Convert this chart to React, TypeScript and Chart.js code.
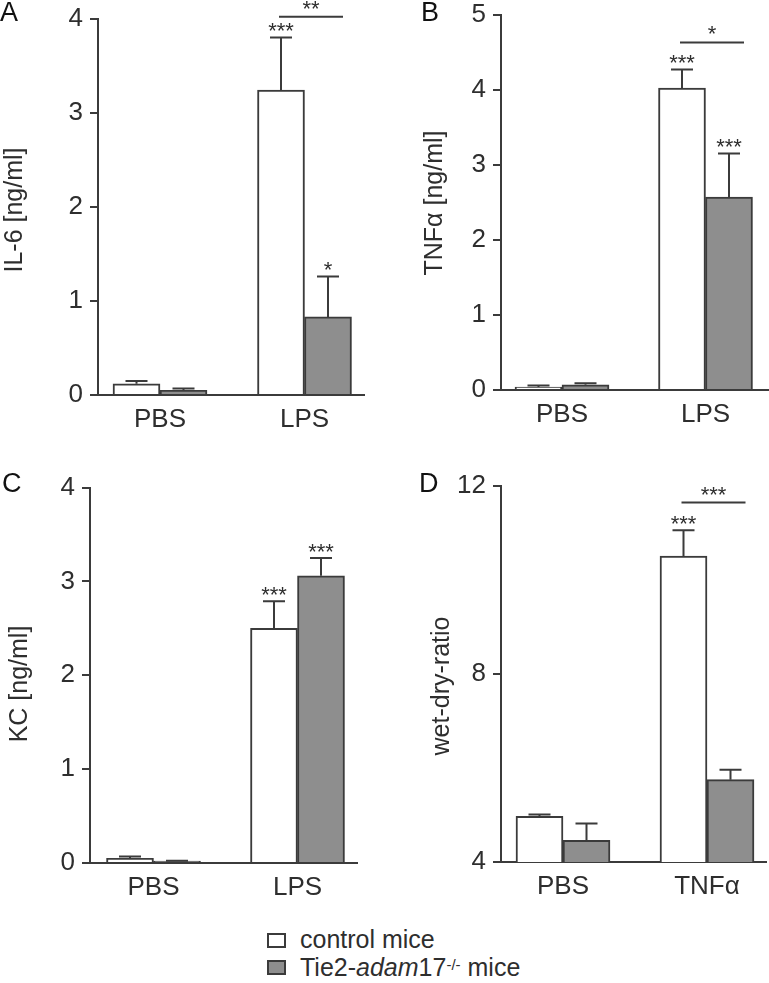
import React, { useEffect, useRef } from 'react';
import { Chart, registerables } from 'chart.js';

Chart.register(...registerables);

// ---------- data ----------
const categoriesLPS = ['PBS', 'LPS'];
const categoriesTNF = ['PBS', 'TNFα'];

const il6Control = [0.12, 3.24];
const il6ControlSem = [0.03, 0.56];
const il6Tie2 = [0.05, 0.83];
const il6Tie2Sem = [0.02, 0.43];
const il6ControlMarks = ['', '***'];
const il6Tie2Marks = ['', '*'];
const il6Bracket = { category: 1, value: 4.02, text: '**' };

const tnfControl = [0.04, 4.02];
const tnfControlSem = [0.02, 0.25];
const tnfTie2 = [0.07, 2.57];
const tnfTie2Sem = [0.02, 0.58];
const tnfControlMarks = ['', '***'];
const tnfTie2Marks = ['', '***'];
const tnfBracket = { category: 1, value: 4.63, text: '*' };

const kcControl = [0.05, 2.5];
const kcControlSem = [0.02, 0.29];
const kcTie2 = [0.02, 3.06];
const kcTie2Sem = [0.005, 0.19];
const kcControlMarks = ['', '***'];
const kcTie2Marks = ['', '***'];

const wdControl = [4.97, 10.5];
const wdControlSem = [0.04, 0.55];
const wdTie2 = [4.46, 5.75];
const wdTie2Sem = [0.36, 0.21];
const wdControlMarks = ['', '***'];
const wdTie2Marks = ['', ''];
const wdBracket = { category: 1, value: 11.64, text: '***' };

const seriesNames = ['control mice', 'Tie2-adam17-/- mice'];

// ---------- styles ----------
const LINE = '#3b3b3b';
const TEXT = '#2e2e2e';
const GRAY = '#8e8e8e';
const FONT = "'Liberation Sans', Arial, sans-serif";
const CAP = 11;

type Series = { values: number[]; sem: number[]; marks: string[] };
type PanelCfg = {
  letter: string;
  categories: string[];
  control: Series;
  tie2: Series;
  bracket?: { category: number; value: number; text: string };
  yMin: number;
  yMax: number;
  yStep: number;
  yTitle: string;
  canvasLeft: number;
  axisX: number;
  top: number;
  bottom: number;
  right: number;
  c0: number;
  c1: number;
  titleX: number;
  titleY: number;
  letterLeft: number;
  letterTop: number;
};

const annotPlugin = {
  id: 'annot',
  afterDatasetsDraw(chart: any, _args: any, opts: any) {
    const ctx = chart.ctx;
    const y = chart.scales.y;
    ctx.save();
    ctx.strokeStyle = LINE;
    ctx.lineWidth = 2;
    ctx.fillStyle = TEXT;
    ctx.font = `22px ${FONT}`;
    ctx.textAlign = 'center';
    ctx.textBaseline = 'alphabetic';
    (opts.series as Series[]).forEach((s, di) => {
      const meta = chart.getDatasetMeta(di);
      meta.data.forEach((el: any, j: number) => {
        const top = y.getPixelForValue(s.values[j] + s.sem[j]);
        ctx.beginPath();
        ctx.moveTo(el.x, el.y);
        ctx.lineTo(el.x, top);
        ctx.moveTo(el.x - CAP, top);
        ctx.lineTo(el.x + CAP, top);
        ctx.stroke();
        if (s.marks[j]) ctx.fillText(s.marks[j], el.x, top + 1);
      });
    });
    const b = opts.bracket;
    if (b) {
      const x0 = chart.getDatasetMeta(0).data[b.category].x - 2;
      const x1 = chart.getDatasetMeta(1).data[b.category].x + 15;
      const yy = y.getPixelForValue(b.value);
      ctx.beginPath();
      ctx.moveTo(x0, yy);
      ctx.lineTo(x1, yy);
      ctx.stroke();
      ctx.fillText(b.text, (x0 + x1) / 2, yy - 1);
    }
    ctx.translate(opts.titleX, opts.titleY);
    ctx.rotate(-Math.PI / 2);
    ctx.font = `25px ${FONT}`;
    ctx.textBaseline = 'middle';
    ctx.fillText(opts.yTitle, 0, 0);
    ctx.restore();
  },
};

const PAD_TOP = 20;
const X_AXIS_H = 45;

function Panel({ cfg }: { cfg: PanelCfg }) {
  const ref = useRef<HTMLCanvasElement>(null);
  const canvasTop = cfg.top - PAD_TOP;
  const width = cfg.right - cfg.canvasLeft;
  const height = cfg.bottom + X_AXIS_H - canvasTop;
  useEffect(() => {
    const spacing = cfg.c1 - cfg.c0;
    const xMin = -(cfg.c0 - cfg.axisX) / spacing;
    const xMax = 1 + (cfg.right - cfg.c1) / spacing;
    const toPts = (v: number[]) => v.map((y, i) => ({ x: i, y }));
    const chart = new Chart(ref.current!, {
      type: 'bar',
      data: {
        datasets: [
          {
            label: seriesNames[0],
            data: toPts(cfg.control.values) as any,
            backgroundColor: '#ffffff',
            borderColor: LINE,
            borderWidth: 2,
            borderSkipped: 'start',
            barThickness: 47,
          },
          {
            label: seriesNames[1],
            data: toPts(cfg.tie2.values) as any,
            backgroundColor: GRAY,
            borderColor: LINE,
            borderWidth: 2,
            borderSkipped: 'start',
            barThickness: 47,
          },
        ],
      },
      options: {
        animation: false,
        responsive: false,
        events: [],
        layout: { padding: { top: PAD_TOP, left: 0, right: 0, bottom: 0 } },
        plugins: {
          legend: { display: false },
          tooltip: { enabled: false },
          annot: {
            series: [cfg.control, cfg.tie2],
            bracket: cfg.bracket,
            yTitle: cfg.yTitle,
            titleX: cfg.titleX - cfg.canvasLeft,
            titleY: cfg.titleY - canvasTop,
          },
        } as any,
        scales: {
          x: {
            type: 'linear',
            offset: false,
            bounds: 'data',
            min: xMin,
            max: xMax,
            afterBuildTicks: (s: any) => {
              s.ticks = cfg.categories.map((_, i) => ({ value: i }));
            },
            afterFit: (s: any) => {
              s.height = X_AXIS_H;
            },
            ticks: {
              callback: (v: any) => cfg.categories[v as number] ?? '',
              font: { family: FONT, size: 26 },
              color: TEXT,
              padding: 9,
              maxRotation: 0,
              autoSkip: false,
            },
            grid: { display: false, drawTicks: false, offset: false },
            border: { display: true, color: LINE, width: 2 },
          },
          y: {
            type: 'linear',
            min: cfg.yMin,
            max: cfg.yMax,
            afterFit: (s: any) => {
              s.width = cfg.axisX - cfg.canvasLeft;
            },
            ticks: {
              stepSize: cfg.yStep,
              font: { family: FONT, size: 26 },
              color: TEXT,
              padding: 7,
            },
            grid: {
              drawOnChartArea: false,
              drawTicks: true,
              tickLength: 8,
              color: LINE,
              lineWidth: 2,
            },
            border: { display: true, color: LINE, width: 2 },
          },
        },
      },
      plugins: [annotPlugin],
    });
    return () => chart.destroy();
  }, []);
  return (
    <>
      <canvas
        ref={ref}
        width={width}
        height={height}
        style={{ position: 'absolute', left: cfg.canvasLeft, top: canvasTop, width, height }}
      />
      <div
        style={{
          position: 'absolute',
          left: cfg.letterLeft,
          top: cfg.letterTop,
          fontFamily: FONT,
          fontSize: 27,
          lineHeight: '1',
          color: '#111',
        }}
      >
        {cfg.letter}
      </div>
    </>
  );
}

const panels: PanelCfg[] = [
  {
    letter: 'A',
    categories: categoriesLPS,
    control: { values: il6Control, sem: il6ControlSem, marks: il6ControlMarks },
    tie2: { values: il6Tie2, sem: il6Tie2Sem, marks: il6Tie2Marks },
    bracket: il6Bracket,
    yMin: 0, yMax: 4, yStep: 1,
    yTitle: 'IL-6 [ng/ml]',
    canvasLeft: 0, axisX: 98, top: 16, bottom: 395, right: 365, c0: 160, c1: 304.5,
    titleX: 15, titleY: 210, letterLeft: 0, letterTop: -1,
  },
  {
    letter: 'B',
    categories: categoriesLPS,
    control: { values: tnfControl, sem: tnfControlSem, marks: tnfControlMarks },
    tie2: { values: tnfTie2, sem: tnfTie2Sem, marks: tnfTie2Marks },
    bracket: tnfBracket,
    yMin: 0, yMax: 5, yStep: 1,
    yTitle: 'TNFα [ng/ml]',
    canvasLeft: 384, axisX: 501, top: 12, bottom: 390, right: 769, c0: 562, c1: 705.5,
    titleX: 435, titleY: 203, letterLeft: 421, letterTop: -1,
  },
  {
    letter: 'C',
    categories: categoriesLPS,
    control: { values: kcControl, sem: kcControlSem, marks: kcControlMarks },
    tie2: { values: kcTie2, sem: kcTie2Sem, marks: kcTie2Marks },
    yMin: 0, yMax: 4, yStep: 1,
    yTitle: 'KC [ng/ml]',
    canvasLeft: 0, axisX: 90, top: 485, bottom: 863, right: 358, c0: 153.5, c1: 297.5,
    titleX: 20, titleY: 684, letterLeft: 2, letterTop: 470,
  },
  {
    letter: 'D',
    categories: categoriesTNF,
    control: { values: wdControl, sem: wdControlSem, marks: wdControlMarks },
    tie2: { values: wdTie2, sem: wdTie2Sem, marks: wdTie2Marks },
    bracket: wdBracket,
    yMin: 4, yMax: 12, yStep: 4,
    yTitle: 'wet-dry-ratio',
    canvasLeft: 384, axisX: 501, top: 483, bottom: 862, right: 767, c0: 563, c1: 707,
    titleX: 442, titleY: 686, letterLeft: 419, letterTop: 470,
  },
];

function Legend() {
  const box = (fill: string, top: number): React.CSSProperties => ({
    position: 'absolute',
    left: 267,
    top,
    width: 15,
    height: 11,
    border: `2px solid ${LINE}`,
    background: fill,
  });
  const text: React.CSSProperties = {
    position: 'absolute',
    left: 300,
    fontFamily: FONT,
    fontSize: 25,
    lineHeight: '28px',
    color: TEXT,
    whiteSpace: 'nowrap',
  };
  return (
    <>
      <div style={box('#ffffff', 933)} />
      <div style={{ ...text, top: 925 }}>{seriesNames[0]}</div>
      <div style={box(GRAY, 960)} />
      <div style={{ ...text, top: 953 }}>
        Tie2-<i>adam</i>17<sup style={{ fontSize: 15, verticalAlign: 'top', position: 'relative', top: -2 }}>-/-</sup> mice
      </div>
    </>
  );
}

export default function App() {
  return (
    <div style={{ position: 'absolute', left: 0, top: 0, width: 769, height: 983, background: '#fff', overflow: 'hidden' }}>
      {panels.map((p) => (
        <Panel key={p.letter} cfg={p} />
      ))}
      <Legend />
    </div>
  );
}
